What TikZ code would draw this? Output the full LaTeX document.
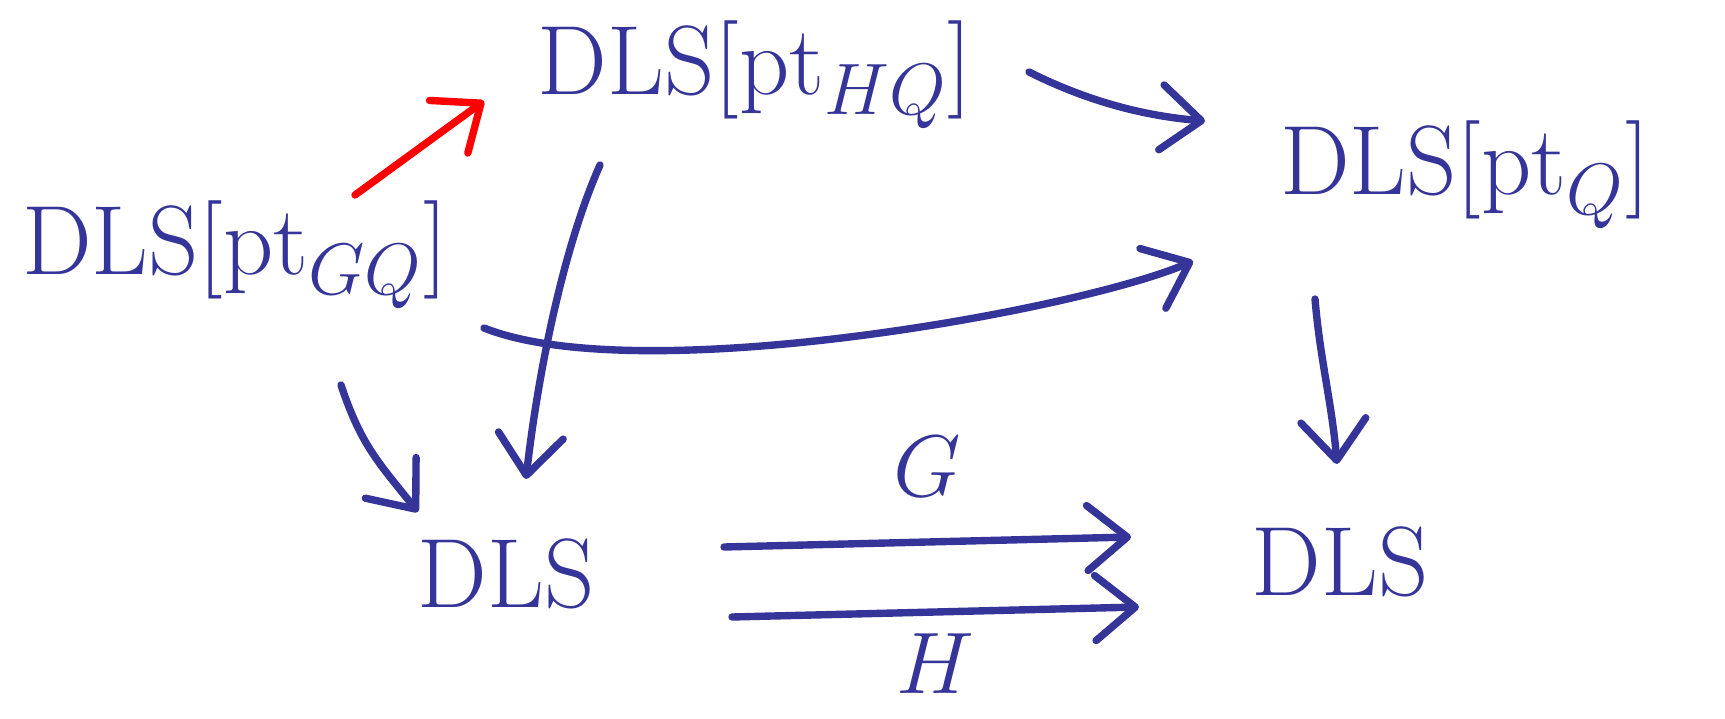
\documentclass[tikz,border=0pt]{standalone}
\usepackage{xcolor}
\usepackage{tikz}
\usetikzlibrary{arrows.meta, calc}
\definecolor{inkblue}{RGB}{52, 52, 153}
\definecolor{inkred}{RGB}{255, 0, 0}

\begin{document}
\begin{tikzpicture}[
    x=0.01cm, y=-0.01cm,
    ink/.style={line width=2.1pt, line cap=round, line join=round, color=inkblue, -{Straight Barb[round, length=4mm, width=6.5mm]}},
    redink/.style={ink, color=inkred},
    obj/.style={inner sep=0pt, text=inkblue, font=\fontsize{28}{32}\selectfont},
    lbl/.style={inner sep=0pt, text=inkblue, font=\fontsize{28}{32}\selectfont}
]
\useasboundingbox (0,0) rectangle (1725,719);

% Objects
\node[obj] (gq) at (235,255) {DLS[pt$_{GQ}$]};
\node[obj] (hq) at (755,75) {DLS[pt$_{HQ}$]};
\node[obj] (q) at (1465,175) {DLS[pt$_{Q}$]};
\node[obj] (dl) at (506,574) {DLS};
\node[obj] (dr) at (1340,562) {DLS};

% Top row
\draw[redink] ([shift={(120,-60)}]gq.center) -- ([shift={(-271,26)}]hq.center);
\draw[ink] ([shift={(274,-3)}]hq.center) .. controls +(60,30) and +(-60,-5) .. ([shift={(-260,-54)}]q.center);
\draw[ink] ([shift={(249,73)}]gq.center) .. controls (640,390) and (1080,310) .. ([shift={(-272,86)}]q.center);

% Down
\draw[ink] ([shift={(106,130)}]gq.center) .. controls +(20,60) and +(-40,-50) .. ([shift={(-88,-62)}]dl.center);
\draw[ink] ([shift={(-155,90)}]hq.center) .. controls +(-40,90) and +(10,-90) .. ([shift={(20,-95)}]dl.center);
\draw[ink] ([shift={(-150,124)}]q.center) .. controls +(5,60) and +(-5,-60) .. ([shift={(-3,-98)}]dr.center);

% Bottom row
\draw[ink] ([shift={(218,-27)}]dl.center) -- ([shift={(-209,-25)}]dr.center) node[midway, above=12pt, lbl] {$G$};
\draw[ink] ([shift={(226,43)}]dl.center) -- ([shift={(-201,45)}]dr.center) node[midway, below=5pt, lbl] {$H$};

\end{tikzpicture}
\end{document}
